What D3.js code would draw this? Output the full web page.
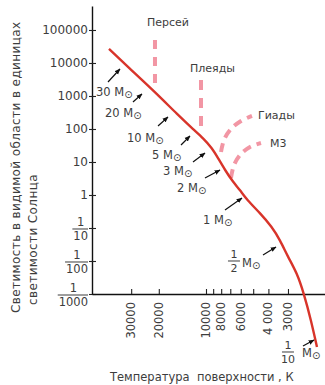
<!DOCTYPE html>
<html><head><meta charset="utf-8">
<script src="https://cdn.jsdelivr.net/npm/d3@7"></script>
<style>
body{margin:0;background:#fff}
text{font-family:"DejaVu Sans",sans-serif;fill:#3d3d3d}
</style>
</head><body>
<svg id="chart" width="325" height="385"></svg>
<script>
// ---- data ----
const curveT = [41550,31440,21150,15090,11930,10450,9157,8384,7565,6727,6070,5476,4524,3794,3374,2999,2628,2371,2140,1960];
const curveL = [26560,7565,1322,265.6,93.3,53.4,26.6,13.2,5.72,2.48,1.417,0.706,0.2848,0.1072,0.0433,0.01322,0.00433,0.001,0.000163,0.0000248];

const clusterNames = ["Персей","Плеяды","Гиады","М3"];
const perseusT = [21150,21150];      const perseusL = [49750,2154];
const pleiadesT = [10760,10760];     const pleiadesL = [3055,107];
const hyadesT = [8022,7677,6929,5981,5090]; const hyadesL = [20.1,46.4,100,174.8,247.7];
const m3T = [6929,6628,5981,5240,4459];     const m3L = [3.27,8.11,17.5,28.5,37.7];

const massNum = ["30","20","10","5","3","2","1","1/2","1/10"];
const massT = [35360,25600,17470,12650,10150,8142,5894,3578,2048];
const massL = [6579,1150,231,61.4,18.7,5.72,0.811,0.02656,0.0000404];

const yTickValues = [1e5,1e4,1e3,100,10,1,0.1,0.01,0.001];
const yTickLabels = ["100000","10000","1000","100","10","1","1/10","1/100","1/1000"];
const xTickValues = [30000,20000,10000,9000,8000,7000,6000,5000,4000,3000];
const xTickLabels = ["30000","20000","10000","","8000","","6000","","4 000","3000"];

const yTitle1 = "Светимость в видимой области в единицах";
const yTitle2 = "светимости Солнца";
const xTitle = "Температура  поверхности , К";

// ---- layout ----
const svg = d3.select("#chart");
const x = d3.scaleLog().domain([53330,1742]).range([92,325]);
const y = d3.scaleLog().domain([0.001,533000]).range([294,6]);

// axes
const yAxis = svg.append("g").attr("transform","translate(92,0)")
  .call(d3.axisLeft(y).tickValues(yTickValues).tickSize(-4).tickSizeOuter(0).tickFormat(""));
yAxis.select(".domain").attr("stroke","#111").attr("stroke-width",1.4);
yAxis.selectAll(".tick line").attr("stroke","#222").attr("stroke-width",1.1).attr("x1",-3);

const xAxis = svg.append("g").attr("transform","translate(0,294)")
  .call(d3.axisBottom(x).tickValues(xTickValues).tickSize(-5).tickSizeOuter(0).tickFormat(""));
xAxis.select(".domain").attr("stroke","#111").attr("stroke-width",1.4);
xAxis.selectAll(".tick line").attr("stroke","#222").attr("stroke-width",1.1);

// y tick labels (with fractions)
yTickValues.forEach((v,i)=>{
  const lab = yTickLabels[i], ty = y(v);
  if (lab.includes("/")) {
    const [n,d] = lab.split("/");
    const g = svg.append("g");
    const den = g.append("text").attr("x",88).attr("y",ty+12).attr("text-anchor","end")
      .attr("font-size",11.5).text(d);
    const w = den.node().getComputedTextLength();
    g.append("text").attr("x",88-w/2).attr("y",ty-2).attr("text-anchor","middle")
      .attr("font-size",11.5).text(n);
    g.append("line").attr("x1",88-w-1).attr("x2",88).attr("y1",ty+1).attr("y2",ty+1)
      .attr("stroke","#3d3d3d").attr("stroke-width",1);
  } else {
    svg.append("text").attr("x",88).attr("y",ty+4).attr("text-anchor","end")
      .attr("font-size",12).text(lab);
  }
});

// x tick labels rotated
xTickValues.forEach((v,i)=>{
  if (!xTickLabels[i]) return;
  svg.append("text")
    .attr("transform",`translate(${x(v)+4},302) rotate(-90)`)
    .attr("text-anchor","end").attr("font-size",11.5)
    .style("white-space","pre").text(xTickLabels[i]);
});

// titles
svg.append("text").attr("transform","translate(20,313) rotate(-90)")
  .attr("font-size",12).attr("letter-spacing",0.4).text(yTitle1);
svg.append("text").attr("transform","translate(37,305) rotate(-90)")
  .attr("font-size",12).attr("letter-spacing",0.4).text(yTitle2);
svg.append("text").attr("x",110).attr("y",381).attr("font-size",11.5)
  .style("white-space","pre").text(xTitle);

// cluster dashed tracks
const line = d3.line().x(d=>x(d[0])).y(d=>y(d[1]));
const clusters = [
  {T:perseusT,L:perseusL,dash:"9,8"},
  {T:pleiadesT,L:pleiadesL,dash:"10,8"},
  {T:hyadesT,L:hyadesL,dash:"9,6"},
  {T:m3T,L:m3L,dash:"9,6"}
];
const clusterLabelOffsets = [[-8,-14],[-11,-8],[6,3],[9,4]];
const clusterLabelAnchorIdx = [0,0,4,4];
clusters.forEach((c,i)=>{
  const pts = c.T.map((t,j)=>[t,c.L[j]]);
  svg.append("path").attr("d",line.curve(d3.curveCatmullRom)(pts))
    .attr("fill","none").attr("stroke","#f296a4").attr("stroke-width",4)
    .attr("stroke-dasharray",c.dash);
  const a = pts[clusterLabelAnchorIdx[i]];
  svg.append("text").attr("x",x(a[0])+clusterLabelOffsets[i][0])
    .attr("y",y(a[1])+clusterLabelOffsets[i][1]).attr("font-size",11).text(clusterNames[i]);
});

// main sequence curve
const ms = curveT.map((t,i)=>[t,curveL[i]]);
svg.append("path").attr("d",d3.line().x(d=>x(d[0])).y(d=>y(d[1])).curve(d3.curveBasis)(ms))
  .attr("fill","none").attr("stroke","#d8342a").attr("stroke-width",2.4);

// arrows + mass labels
svg.append("defs").append("marker").attr("id","ah").attr("viewBox","0 0 10 10")
  .attr("refX",9).attr("refY",5).attr("markerWidth",6).attr("markerHeight",6)
  .attr("orient","auto").attr("markerUnits","userSpaceOnUse")
  .append("path").attr("d","M0,1 L10,5 L0,9 Z").attr("fill","#111");

const tailOff = [[-12,13],[-9,8],[-10,9],[-9,9],[-12,9],[-15,8],[-17,12],[-13,8],[-11,6]];
const textOff = [[-24,27],[-37,23],[-41,25],[-38,23],[-42,22],[-43,22],[-39,26],[-34,20],[-12,17]];
const fracOff = [null,null,null,null,null,null,null,[-42,14],[-26,12]];

massNum.forEach((m,i)=>{
  const hx = x(massT[i]), hy = y(massL[i]);
  svg.append("line").attr("x1",hx+tailOff[i][0]).attr("y1",hy+tailOff[i][1])
    .attr("x2",hx).attr("y2",hy).attr("stroke","#111").attr("stroke-width",1.2)
    .attr("marker-end","url(#ah)");
  const t = svg.append("text").attr("x",hx+textOff[i][0]).attr("y",hy+textOff[i][1])
    .attr("font-size",11.5);
  if (m.includes("/")) {
    const [n,d] = m.split("/");
    const cx = hx+fracOff[i][0], ly = hy+fracOff[i][1];
    svg.append("text").attr("x",cx).attr("y",ly-3).attr("text-anchor","middle").attr("font-size",11).text(n);
    svg.append("text").attr("x",cx).attr("y",ly+11).attr("text-anchor","middle").attr("font-size",11).text(d);
    svg.append("line").attr("x1",cx-6).attr("x2",cx+6).attr("y1",ly).attr("y2",ly)
      .attr("stroke","#3d3d3d").attr("stroke-width",1);
    t.append("tspan").text("M");
  } else {
    t.append("tspan").text(m+" M");
  }
  t.append("tspan").attr("dy",2).attr("font-size",10).text("⊙");
});
</script>
</body></html>
